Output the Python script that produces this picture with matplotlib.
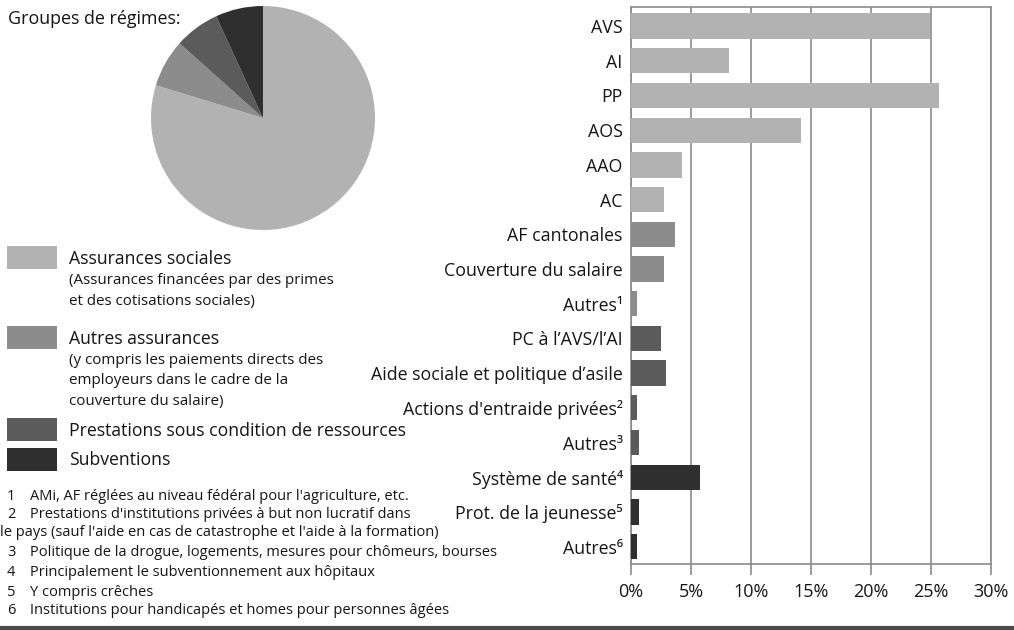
import matplotlib
matplotlib.use("Agg")
import matplotlib.pyplot as plt
from matplotlib.ticker import PercentFormatter, MultipleLocator
import numpy as np

plt.rcParams['font.family'] = ['Open Sans', 'DejaVu Sans']

categories = ["AVS", "AI", "PP", "AOS", "AAO", "AC",
              "AF cantonales", "Couverture du salaire", "Autres¹",
              "PC à l’AVS/l’AI", "Aide sociale et politique d’asile",
              "Actions d'entraide privées²", "Autres³",
              "Système de santé⁴", "Prot. de la jeunesse⁵", "Autres⁶"]
values = [24.9, 8.2, 25.7, 14.2, 4.25, 2.75,
          3.7, 2.75, 0.47,
          2.5, 2.9, 0.47, 0.67,
          5.75, 0.67, 0.47]
groups = [0, 0, 0, 0, 0, 0,
          1, 1, 1,
          2, 2, 2, 2,
          3, 3, 3]
group_names = ["Assurances sociales", "Autres assurances",
               "Prestations sous condition de ressources", "Subventions"]
group_notes = [["(Assurances financées par des primes", "et des cotisations sociales)"],
               ["(y compris les paiements directs des", "employeurs dans le cadre de la",
                "couverture du salaire)"],
               [], []]
group_colors = ["#b2b2b2", "#8c8c8c", "#5b5b5b", "#2f2f2f"]
footnote_nums = ["1", "2", "", "3", "4", "5", "6"]
footnote_texts = ["AMi, AF réglées au niveau fédéral pour l'agriculture, etc.",
                  "Prestations d'institutions privées à but non lucratif dans",
                  "le pays (sauf l'aide en cas de catastrophe et l'aide à la formation)",
                  "Politique de la drogue, logements, mesures pour chômeurs, bourses",
                  "Principalement le subventionnement aux hôpitaux",
                  "Y compris crêches",
                  "Institutions pour handicapés et homes pour personnes âgées"]

W, H = 1014, 630
fig = plt.figure(figsize=(W / 100, H / 100), dpi=100)

def fx(px):
    return px / W

def fy(py):
    return 1 - py / H

TXT = '#151515'

# ---- bar chart ----
ax = fig.add_axes([fx(631), fy(564), fx(991) - fx(631), fy(7) - fy(564)])
y = np.arange(len(categories))
bar_colors = [group_colors[g] for g in groups]
ax.barh(y, values, height=0.73, color=bar_colors, zorder=3)
ax.set_xlim(0, 30)
ax.set_ylim(len(categories) - 0.5, -0.55)
ax.xaxis.set_major_locator(MultipleLocator(5))
ax.xaxis.set_major_formatter(PercentFormatter(decimals=0))
ax.grid(axis='x', color='#8a8a8a', linewidth=1.2, zorder=0)
for s in ax.spines.values():
    s.set_color('#8a8a8a')
    s.set_linewidth(1.2)
ax.set_yticks(y)
ax.set_yticklabels(categories, fontsize=12.8, color=TXT)
ax.tick_params(axis='y', length=0, pad=6)
ax.tick_params(axis='x', length=8, width=1.2, color='#8a8a8a', labelsize=13,
               labelcolor=TXT, pad=6)

# ---- pie chart ----
group_totals = [sum(v for v, g in zip(values, groups) if g == k) for k in range(4)]
pax = fig.add_axes([fx(151), fy(230), fx(224), 224 / H])
pax.pie(group_totals, colors=group_colors, startangle=90, counterclock=False,
        radius=1.0, wedgeprops=dict(linewidth=0))
pax.set_xlim(-1, 1)
pax.set_ylim(-1, 1)
pax.set_aspect('equal')
pax.axis('off')

fig.text(fx(8), fy(19), "Groupes de régimes:", fontsize=12.9, va='center',
         ha='left', color=TXT)

# ---- legend ----
box_tops = [246, 326, 418, 448]
title_y = [259, 339, 431, 460]
note_y0 = [281, 361, None, None]
for k in range(4):
    fig.patches.append(plt.Rectangle((fx(7), fy(box_tops[k] + 23)), fx(50), 23 / H,
                                     transform=fig.transFigure,
                                     color=group_colors[k], linewidth=0))
    fig.text(fx(69), fy(title_y[k]), group_names[k], fontsize=12.7, va='center',
             ha='left', color=TXT)
    for i, line in enumerate(group_notes[k]):
        fig.text(fx(69), fy(note_y0[k] + 20 * i), line, fontsize=10.9,
                 va='center', ha='left', color=TXT)

# ---- footnotes ----
fn_y = [497, 515, 533, 552, 572, 592, 611]
for n, t, yy in zip(footnote_nums, footnote_texts, fn_y):
    if n:
        fig.text(fx(7), fy(yy), n, fontsize=10.5, va='center', ha='left', color=TXT)
        fig.text(fx(30), fy(yy), t, fontsize=10.5, va='center', ha='left', color=TXT)
    else:
        fig.text(fx(0), fy(yy), t, fontsize=10.5, va='center', ha='left', color=TXT)

# bottom rule
fig.add_artist(plt.Line2D([0, 1], [fy(628), fy(628)], transform=fig.transFigure,
                          color='#4a4a4a', linewidth=3))

fig.savefig("out.png", dpi=100)
